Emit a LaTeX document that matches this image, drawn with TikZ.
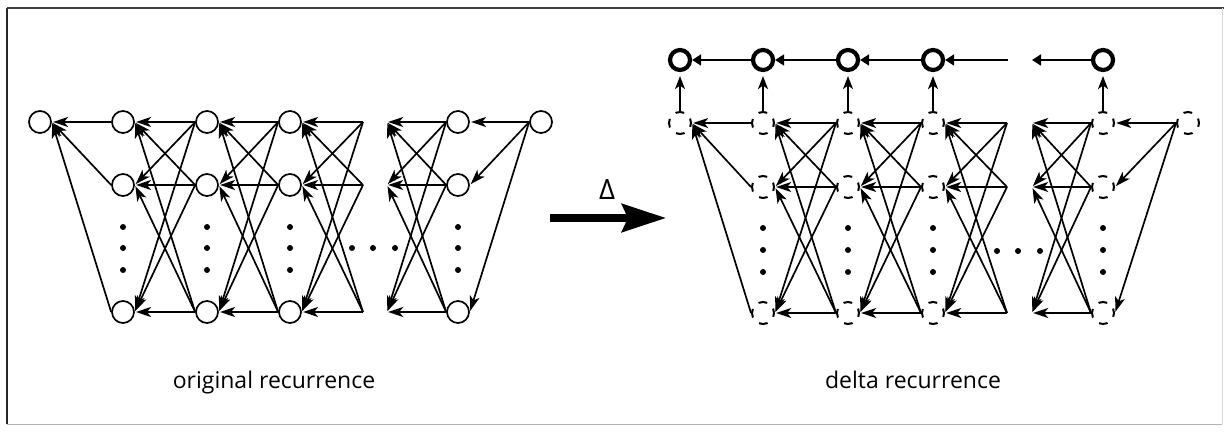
\documentclass[tikz,border=0pt]{standalone}
\usepackage{fontspec}
\setmainfont{Open Sans}
\usetikzlibrary{arrows.meta}
\begin{document}
\begin{tikzpicture}[x=0.5pt,y=-0.5pt,
  nd/.style={circle, draw, line width=0.85pt, minimum size=11pt, inner sep=0pt},
  dnd/.style={circle, draw, line width=1pt, minimum size=11pt, inner sep=0pt, dash pattern=on 4.4pt off 4.24pt, dash phase=2.2pt},
  bnd/.style={circle, draw, line width=2.1pt, minimum size=10pt, inner sep=0pt},
  dotn/.style={circle, fill, inner sep=0pt, minimum size=3pt},
  edge/.style={line width=0.85pt, -{Stealth[length=7.5pt,width=5pt,inset=2pt]}, shorten >=0.6pt},
  vedge/.style={line width=0.9pt, -{Stealth[length=6.5pt,width=5pt,inset=1.8pt]}, shorten >=2pt},
  tedge/.style={line width=0.9pt, -{Triangle[length=4.5pt,width=5.5pt]}},
  lbl/.style={font=\fontsize{11.5}{14}\selectfont, inner sep=0pt},
  frame/.style={line width=0.7pt}
]
\useasboundingbox (0,0) rectangle (1224,432);
% frame
\draw[frame, black!85] (7,8) -- (7,424);
\draw[line width=1.4pt, black!75] (7,8) -- (1224,8);
\draw[line width=0.5pt, black!30] (7,424) -- (1222,424);
\draw[line width=0.5pt, black!15] (1222,8) -- (1222,424);

% ---------------- left: original recurrence ----------------
\node[nd] (La) at (40,122) {};
\foreach \c/\x in {1/123, 2/207, 3/290, 4/458} {
  \foreach \k/\y in {1/122, 2/185, 3/312} {
    \node[nd] (L\c\k) at (\x,\y) {};
  }
  \foreach \y in {227, 248, 270} \node[dotn] at (\x,\y) {};
}
\node[nd] (L5) at (541,122) {};
\foreach \k/\y in {1/122, 2/185, 3/312} {
  \coordinate (LVs\k) at (363,\y);
  \coordinate (LVt\k) at (387,\y);
}
\foreach \x in {352, 373, 395} \node[dotn] at (\x,248) {};

\foreach \k in {1,2,3} {
  \draw[edge] (L1\k.west) -- (La.east);
  \draw[edge] (L5.west) -- (L4\k.east);
  \foreach \j in {1,2,3} {
    \draw[edge] (L2\k.west) -- (L1\j.east);
    \draw[edge] (L3\k.west) -- (L2\j.east);
    \draw[edge] (LVs\k) -- (L3\j.east);
    \draw[edge] (L4\k.west) -- (LVt\j);
  }
}
\node[lbl, anchor=base] (lab1) at (274,388) {original recurrence};

% ---------------- delta arrow ----------------
\coordinate (DA) at (550,218);
\coordinate (DB) at (666,218);
\draw[line width=3.6pt, -{Stealth[length=22pt,width=14pt,inset=3pt]}] (DA) -- (DB);
\node[inner sep=0pt, font=\fontsize{14}{16}\selectfont] (delta) at (607,190) {Δ};

% ---------------- right: delta recurrence ----------------
\node[dnd] (Ra) at (680,123) {};
\node[bnd] (Ba) at (680,60) {};
\foreach \c/\x in {1/763, 2/848, 3/933, 4/1103} {
  \foreach \k/\y in {1/123, 2/187, 3/313} {
    \node[dnd] (R\c\k) at (\x,\y) {};
  }
  \node[bnd] (B\c) at (\x,60) {};
  \foreach \y in {228, 250, 272} \node[dotn] at (\x,\y) {};
}
\node[dnd] (R5) at (1188,123) {};
\foreach \k/\y in {1/123, 2/187, 3/313} {
  \coordinate (RVs\k) at (1007,\y);
  \coordinate (RVt\k) at (1032,\y);
}
\coordinate (BVs) at (1008,60);
\coordinate (BVt) at (1032,60);
\foreach \x in {997, 1018, 1040} \node[dotn] at (\x,251) {};

\foreach \k in {1,2,3} {
  \draw[edge] (R1\k.west) -- (Ra.east);
  \draw[edge] (R5.west) -- (R4\k.east);
  \foreach \j in {1,2,3} {
    \draw[edge] (R2\k.west) -- (R1\j.east);
    \draw[edge] (R3\k.west) -- (R2\j.east);
    \draw[edge] (RVs\k) -- (R3\j.east);
    \draw[edge] (R4\k.west) -- (RVt\j);
  }
}
% vertical arrows to the bold row
\draw[vedge] (Ra.north) -- (Ba.south);
\foreach \c in {1,2,3,4} \draw[vedge] (R\c1.north) -- (B\c.south);
% bold row
\draw[tedge] (B1.west) -- (Ba.east);
\draw[tedge] (B2.west) -- (B1.east);
\draw[tedge] (B3.west) -- (B2.east);
\draw[tedge] (BVs) -- (B3.east);
\draw[tedge] (B4.west) -- (BVt);

\node[lbl, anchor=base] (lab2) at (913,388) {delta recurrence};
\end{tikzpicture}
\end{document}
